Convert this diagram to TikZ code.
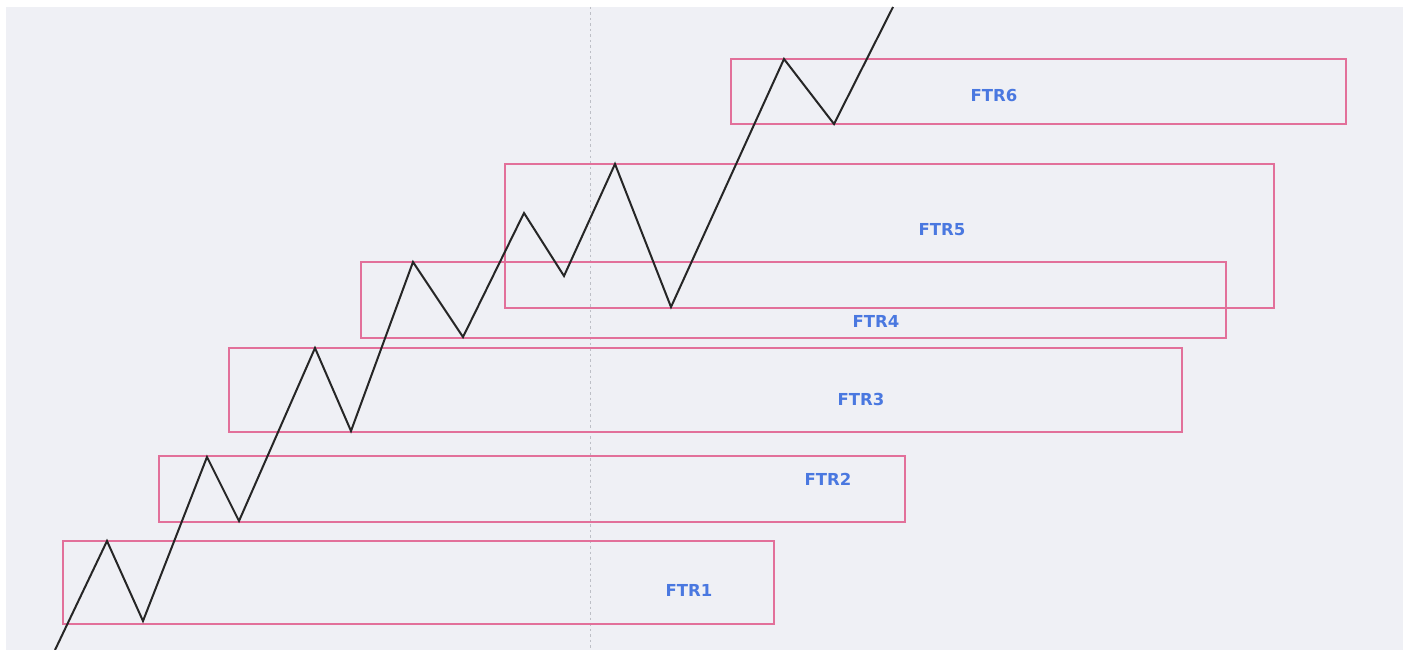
\documentclass[tikz,border=0pt]{standalone}
\usepackage{fontspec}
\setsansfont{DejaVu Sans}
\definecolor{chartbg}{HTML}{EFF0F5}
\definecolor{zonepink}{HTML}{E2709A}
\definecolor{labelblue}{HTML}{4A78E0}
\definecolor{gridgray}{HTML}{BDBFC6}
\tikzset{
	zone/.style={draw=zonepink, line width=1.5pt},
	zonelabel/.style={text=labelblue, font=\sffamily\bfseries\fontsize{16.5}{19}\selectfont, inner sep=0pt},
	price/.style={draw=black!85, line width=2pt, line join=miter}
}
\begin{document}
\begin{tikzpicture}[x=1pt, y=-1pt]
	\useasboundingbox (0,0) rectangle (1405,650);
	\fill[chartbg] (6,7) rectangle (1403,650);
	\draw[gridgray, line width=1pt, dash pattern=on 2.5pt off 3pt] (590,7) -- (590,650);
	% zones
	\draw[zone] (63,541) rectangle (774,624);
	\draw[zone] (159,456) rectangle (905,522);
	\draw[zone] (229,348) rectangle (1182,432);
	\draw[zone] (361,262) rectangle (1226,338);
	\draw[zone] (505,164) rectangle (1274,308);
	\draw[zone] (731,59) rectangle (1346,124);
	\node[zonelabel] (ftr1) at (689,590) {FTR1};
	\node[zonelabel] (ftr2) at (828,479) {FTR2};
	\node[zonelabel] (ftr3) at (861,399) {FTR3};
	\node[zonelabel] (ftr4) at (876,321) {FTR4};
	\node[zonelabel] (ftr5) at (942,230) {FTR5};
	\node[zonelabel] (ftr6) at (994,96) {FTR6};
	% price path
	\draw[price] (55,650) -- (107,541) -- (143,621) -- (207,457) -- (239,521)
	-- (315,348) -- (351,431) -- (413,262) -- (463,337) -- (524,213)
	-- (564,276) -- (615,164) -- (671,307) -- (784,59) -- (834,124) -- (893,7);
\end{tikzpicture}
\end{document}
